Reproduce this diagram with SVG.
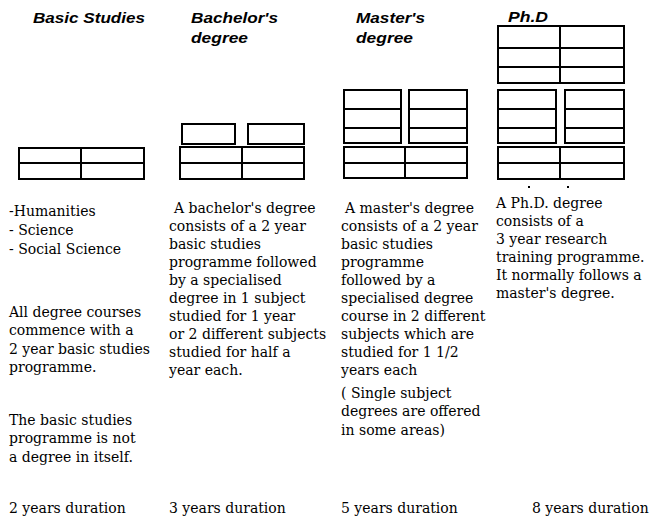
<svg xmlns="http://www.w3.org/2000/svg" width="656" height="522" viewBox="0 0 656 522">
<style>
.bx{fill:none;stroke:#000;stroke-width:2}
.ln{stroke:#000;stroke-width:2}
</style>
<rect width="656" height="522" fill="#fff"/>
<g id="basic">
<g font-family="Liberation Sans, Arial, sans-serif" font-style="italic" font-weight="bold" font-size="15">
<text x="33" y="23" textLength="112" lengthAdjust="spacingAndGlyphs">Basic Studies</text>
</g>
<rect class="bx" x="19" y="148" width="125" height="31"/>
<line class="ln" x1="19" y1="163" x2="144" y2="163"/>
<line class="ln" x1="81" y1="148" x2="81" y2="179"/>
<g font-family="DejaVu Serif, Liberation Serif, serif" font-size="14">
<text x="9" y="216">-Humanities</text>
<text x="9" y="235">- Science</text>
<text x="9" y="254">- Social Science</text>
<text x="9" y="317">All degree courses</text>
<text x="9" y="335">commence with a</text>
<text x="9" y="354">2 year basic studies</text>
<text x="9" y="372">programme.</text>
<text x="9" y="425">The basic studies</text>
<text x="9" y="443">programme is not</text>
<text x="9" y="462">a degree in itself.</text>
<text x="9" y="513">2 years duration</text>
</g>
</g>
<g id="bachelor">
<g font-family="Liberation Sans, Arial, sans-serif" font-style="italic" font-weight="bold" font-size="15">
<text x="191" y="23" textLength="87" lengthAdjust="spacingAndGlyphs">Bachelor's</text>
<text x="191" y="43" textLength="57" lengthAdjust="spacingAndGlyphs">degree</text>
</g>
<rect class="bx" x="182" y="124" width="53" height="20"/>
<rect class="bx" x="248" y="124" width="56" height="20"/>
<rect class="bx" x="180" y="147" width="124" height="32"/>
<line class="ln" x1="180" y1="163" x2="304" y2="163"/>
<line class="ln" x1="242" y1="147" x2="242" y2="179"/>
<g font-family="DejaVu Serif, Liberation Serif, serif" font-size="14">
<text x="174" y="213">A bachelor's degree</text>
<text x="169" y="231">consists of a 2 year</text>
<text x="169" y="249">basic studies</text>
<text x="169" y="267">programme followed</text>
<text x="169" y="285">by a specialised</text>
<text x="169" y="303">degree in 1 subject</text>
<text x="169" y="321">studied for 1 year</text>
<text x="169" y="339">or 2 different subjects</text>
<text x="169" y="357">studied for half a</text>
<text x="169" y="375">year each.</text>
<text x="169" y="513">3 years duration</text>
</g>
</g>
<g id="master">
<g font-family="Liberation Sans, Arial, sans-serif" font-style="italic" font-weight="bold" font-size="15">
<text x="356" y="23" textLength="69" lengthAdjust="spacingAndGlyphs">Master's</text>
<text x="356" y="43" textLength="57" lengthAdjust="spacingAndGlyphs">degree</text>
</g>
<rect class="bx" x="344" y="90" width="57" height="53"/>
<line class="ln" x1="344" y1="109" x2="401" y2="109"/>
<line class="ln" x1="344" y1="128" x2="401" y2="128"/>
<rect class="bx" x="409" y="90" width="58" height="53"/>
<line class="ln" x1="409" y1="109" x2="467" y2="109"/>
<line class="ln" x1="409" y1="128" x2="467" y2="128"/>
<rect class="bx" x="344" y="147" width="123" height="31"/>
<line class="ln" x1="344" y1="163" x2="467" y2="163"/>
<line class="ln" x1="405" y1="147" x2="405" y2="178"/>
<g font-family="DejaVu Serif, Liberation Serif, serif" font-size="14">
<text x="345" y="213">A master's degree</text>
<text x="341" y="231">consists of a 2 year</text>
<text x="341" y="249">basic studies</text>
<text x="341" y="267">programme</text>
<text x="341" y="285">followed by a</text>
<text x="341" y="303">specialised degree</text>
<text x="341" y="321">course in 2 different</text>
<text x="341" y="339">subjects which are</text>
<text x="341" y="357">studied for 1 1/2</text>
<text x="341" y="375">years each</text>
<text x="341" y="398">( Single subject</text>
<text x="341" y="416">degrees are offered</text>
<text x="341" y="435">in some areas)</text>
<text x="341" y="513">5 years duration</text>
</g>
</g>
<g id="phd">
<g font-family="Liberation Sans, Arial, sans-serif" font-style="italic" font-weight="bold" font-size="15">
<text x="508" y="22" textLength="40" lengthAdjust="spacingAndGlyphs">Ph.D</text>
</g>
<rect class="bx" x="498" y="26" width="126" height="57"/>
<line class="ln" x1="498" y1="48" x2="624" y2="48"/>
<line class="ln" x1="498" y1="67" x2="624" y2="67"/>
<line class="ln" x1="560" y1="26" x2="560" y2="83"/>
<rect class="bx" x="498" y="90" width="58" height="53"/>
<line class="ln" x1="498" y1="109" x2="556" y2="109"/>
<line class="ln" x1="498" y1="128" x2="556" y2="128"/>
<rect class="bx" x="565" y="90" width="59" height="53"/>
<line class="ln" x1="565" y1="109" x2="624" y2="109"/>
<line class="ln" x1="565" y1="128" x2="624" y2="128"/>
<rect class="bx" x="498" y="147" width="126" height="32"/>
<line class="ln" x1="498" y1="163" x2="624" y2="163"/>
<line class="ln" x1="560" y1="147" x2="560" y2="179"/>
<rect x="528" y="186" width="2" height="2" fill="#000"/>
<rect x="567" y="186" width="2" height="2" fill="#000"/>
<g font-family="DejaVu Serif, Liberation Serif, serif" font-size="14">
<text x="496" y="208">A Ph.D. degree</text>
<text x="496" y="226">consists of a</text>
<text x="496" y="244">3 year research</text>
<text x="496" y="262">training programme.</text>
<text x="496" y="280">It normally follows a</text>
<text x="496" y="298">master's degree.</text>
<text x="532" y="513">8 years duration</text>
</g>
</g>
<g id="connectors"></g>
</svg>
